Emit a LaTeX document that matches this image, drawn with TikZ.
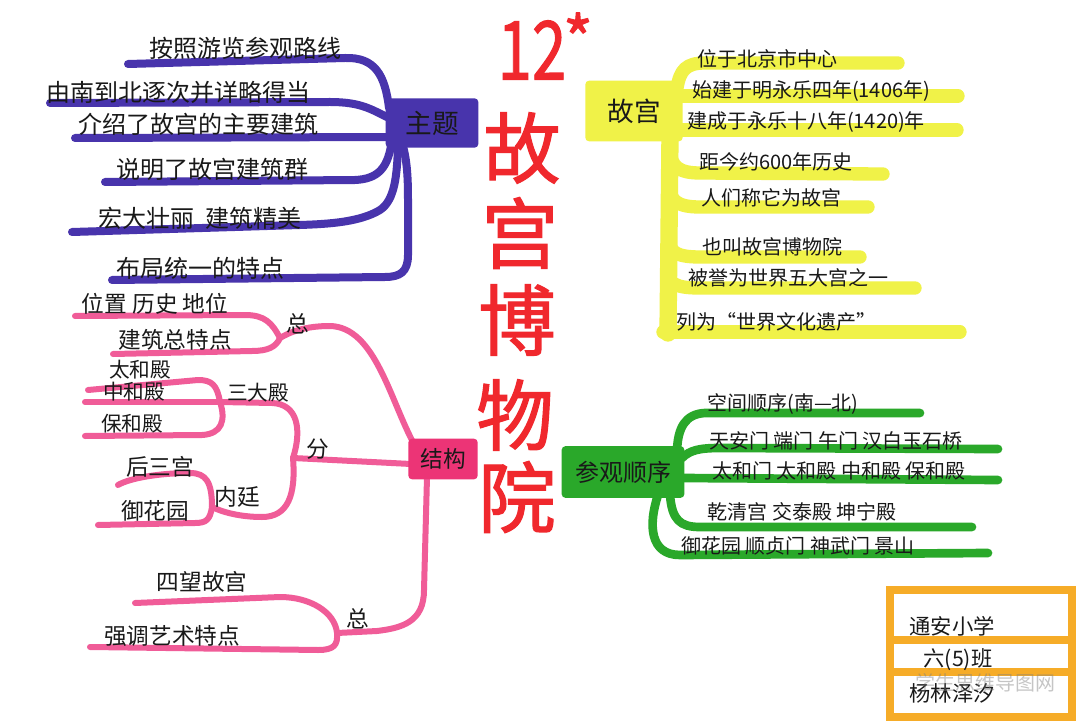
\documentclass[tikz,border=0pt]{standalone}
\usepackage{fontspec}
\setmainfont{Noto Sans CJK SC}
\newfontfamily\titlefont{Noto Sans CJK SC}[FakeBold=1.5]
\definecolor{cblue}{RGB}{72,52,172}
\definecolor{cpink}{RGB}{240,92,152}
\definecolor{cpinkbox}{RGB}{236,52,118}
\definecolor{cyel}{RGB}{240,242,72}
\definecolor{cgreen}{RGB}{42,168,42}
\definecolor{corange}{RGB}{246,172,40}
\definecolor{cred}{RGB}{240,40,45}
\definecolor{ink}{RGB}{25,25,25}
\pgfdeclarelayer{paper}
\pgfdeclarelayer{bg}
\pgfsetlayers{paper,bg,main}
\begin{document}
\begin{tikzpicture}[x=0.75pt,y=-0.75pt,
  bl/.style={draw=cblue,line width=6pt,line cap=round,line join=round},
  pk/.style={draw=cpink,line width=4.5pt,line cap=round,line join=round},
  yl/.style={draw=cyel,line width=10pt,line cap=round,line join=round},
  gr/.style={draw=cgreen,line width=6.5pt,line cap=round,line join=round},
  boxbase/.style={rectangle,rounded corners=2pt,inner sep=0pt,text=ink},
  blbox/.style={boxbase,fill=cblue,draw=cblue,line width=2pt,minimum width=67.5pt,minimum height=35pt,font=\fontsize{20}{22}\selectfont},
  pkbox/.style={boxbase,fill=cpinkbox,draw=cpinkbox,line width=2pt,minimum width=50pt,minimum height=28.5pt,font=\fontsize{17}{19}\selectfont},
  ylbox/.style={boxbase,fill=cyel,draw=cyel,line width=2pt,minimum width=71pt,minimum height=43.5pt,font=\fontsize{20}{22}\selectfont},
  grbox/.style={boxbase,fill=cgreen,draw=cgreen,line width=2pt,minimum width=90pt,minimum height=36.75pt,font=\fontsize{18}{20}\selectfont},
  tl/.style={inner sep=0pt,text=ink,font=\fontsize{18}{20}\selectfont},
  tp/.style={inner sep=0pt,text=ink,font=\fontsize{17}{19}\selectfont},
  tps/.style={inner sep=0pt,text=ink,font=\fontsize{15.5}{17}\selectfont},
  tr/.style={inner sep=0pt,text=ink,font=\fontsize{15}{17}\selectfont},
  to/.style={inner sep=0pt,text=ink,font=\fontsize{16}{18}\selectfont},
  cell/.style={rectangle,draw=corange,line width=6pt,minimum width=136.5pt,inner sep=0pt},
  ttl/.style={inner sep=0pt,text=cred,font=\titlefont\fontsize{58}{60}\selectfont},
  wm/.style={inner sep=0pt,text=gray,opacity=0.45,font=\fontsize{15}{17}\selectfont}]
\useasboundingbox (0,0) rectangle (1080,723);
\begin{pgfonlayer}{paper}
\fill[white] (0,0) rectangle (1080,723);
\end{pgfonlayer}

% ---------- title ----------
\node[ttl] (n12) at (532,50) {\scalebox{0.8}[1.05]{12}};
\node[inner sep=0pt,text=cred,font=\titlefont\fontsize{48}{50}\selectfont] (star) at (578,38) {*};
\node[ttl] (c1) at (522,148) {故};
\node[ttl] (c2) at (520,233) {宫};
\node[ttl] (c3) at (517,320) {博};
\node[ttl] (c4) at (515,415) {物};
\node[ttl] (c5) at (517,497) {院};

% ---------- boxes ----------
\node[blbox] (zt) at (432,123) {主题};
\node[pkbox] (jg) at (443,459) {结构};
\node[ylbox] (gg) at (634,111) {故宫};
\node[grbox] (cg) at (623,472) {参观顺序};

% ---------- blue texts ----------
\node[tl] (b1) at (245,48) {按照游览参观路线};
\node[tl] (b2) at (178,92) {由南到北逐次并详略得当};
\node[tl] (b3) at (198,124) {介绍了故宫的主要建筑};
\node[tl] (b4) at (212,169) {说明了故宫建筑群};
\node[tl] (b5) at (200,218) {宏大壮丽\ \ 建筑精美};
\node[tl] (b6) at (200,268) {布局统一的特点};

% ---------- pink texts ----------
\node[tp] (pz1) at (298,324) {总};
\node[tp] (pa) at (155,304) {位置\ 历史\ 地位};
\node[tp] (pb) at (175,340) {建筑总特点};
\node[tp] (pf) at (318,449) {分};
\node[tps] (psd) at (258,393) {三大殿};
\node[tps] (pth) at (140,370) {太和殿};
\node[tps] (pzh) at (134,392) {中和殿};
\node[tps] (pbh) at (132,424) {保和殿};
\node[tp] (pnt) at (237,497) {内廷};
\node[tp] (phs) at (160,467) {后三宫};
\node[tp] (pyh) at (155,511) {御花园};
\node[tp] (pz2) at (358,619) {总};
\node[tp] (psw) at (202,582) {四望故宫};
\node[tp] (pqd) at (172,636) {强调艺术特点};

% ---------- yellow texts ----------
\node[tr] (y1) at (767,59) {位于北京市中心};
\node[tr] (y2) at (811,91) {始建于明永乐四年(1406年)};
\node[tr] (y3) at (806,122) {建成于永乐十八年(1420)年};
\node[tr] (y4) at (776,162) {距今约600年历史};
\node[tr] (y5) at (771,198) {人们称它为故宫};
\node[tr] (y6) at (772,247) {也叫故宫博物院};
\node[tr] (y7) at (788,278) {被誉为世界五大宫之一};
\node[tr] (y8) at (776,322) {列为“世界文化遗产”};

% ---------- green texts ----------
\node[tr] (g1) at (783,404) {空间顺序(南—北)};
\node[tr] (g2) at (836,441) {天安门\ 端门\ 午门\ 汉白玉石桥};
\node[tr] (g3) at (839,471) {太和门\ 太和殿\ 中和殿\ 保和殿};
\node[tr] (g4) at (802,512) {乾清宫\ 交泰殿\ 坤宁殿};
\node[tr] (g5) at (798,546) {御花园\ 顺贞门\ 神武门\ 景山};

% ---------- orange card ----------
\node[cell,minimum height=37.5pt] (s1) at (981,615) {};
\node[cell,minimum height=24pt] (s2) at (981,656) {};
\node[cell,minimum height=33.75pt] (s3) at (981,694.5) {};
\node[to] (o1) at (952,626) {通安小学};
\node[to] (o2) at (958,660) {六(5)班};
\node[to] (o3) at (952,693) {杨林泽汐};
\node[wm] (wmk) at (985,683) {学生思维导图网};

% ---------- coordinates ----------
\coordinate (zA1) at (389,108); \coordinate (zL1) at (128,64);
\coordinate (zA2) at (389,118); \coordinate (zL2) at (50,103);
\coordinate (zA3) at (389,137); \coordinate (zL3) at (75,138);
\coordinate (zA4) at (391,146); \coordinate (zL4) at (105,182);
\coordinate (zA5) at (398,146); \coordinate (zL5) at (72,232);
\coordinate (zA6) at (403,146); \coordinate (zL6) at (112,280);

\coordinate (jA1) at (414,444); \coordinate (jA2) at (411,464); \coordinate (jA3) at (427,477);
\coordinate (hz1) at (280,338); \coordinate (hf) at (293,458); \coordinate (hs) at (220,402);
\coordinate (hn) at (212,507); \coordinate (hz2) at (337,633);
\coordinate (pL1) at (75,316); \coordinate (pL2) at (113,354); \coordinate (pL3) at (88,390);
\coordinate (pL4) at (85,402); \coordinate (pL5) at (85,436); \coordinate (pL6) at (118,485);
\coordinate (pL7) at (98,525); \coordinate (pL8) at (135,603); \coordinate (pL9) at (90,647);

\coordinate (yT0) at (670,135); \coordinate (yT1) at (668,333);
\coordinate (yA1) at (677,88);  \coordinate (yR1) at (898,63);
\coordinate (yA2) at (680,96);  \coordinate (yR2) at (958,96);
\coordinate (yA3) at (680,130); \coordinate (yR3) at (957,130);
\coordinate (yA4) at (670,150); \coordinate (yR4) at (883,174);
\coordinate (yA5) at (669,185); \coordinate (yR5) at (868,207);
\coordinate (yA6) at (669,240); \coordinate (yR6) at (860,257);
\coordinate (yA7) at (668,272); \coordinate (yR7) at (915,288);
\coordinate (yA8) at (663,332); \coordinate (yR8) at (960,332);

\coordinate (gA1) at (677,450); \coordinate (gR1) at (920,413);
\coordinate (gA2) at (682,458); \coordinate (gR2) at (998,449);
\coordinate (gA3) at (682,478); \coordinate (gR3) at (998,480);
\coordinate (gA4) at (670,495); \coordinate (gR4) at (972,527);
\coordinate (gA5) at (658,495); \coordinate (gR5) at (988,553);

\begin{pgfonlayer}{bg}
% blue
\draw[bl] (zA1) .. controls (385,75) and (375,57) .. (345,58) -- (zL1);
\draw[bl] (zA2) .. controls (372,110) and (362,102) .. (330,102) -- (zL2);
\draw[bl] (zA3) -- (zL3);
\draw[bl] (zA4) .. controls (387,168) and (378,179) .. (355,180) -- (zL4);
\draw[bl] (zA5) .. controls (397,175) and (395,200) .. (380,210) .. controls (360,222) and (330,224) .. (300,225) -- (zL5);
\draw[bl] (zA6) .. controls (408,165) and (408,185) .. (408,205) -- (408,255) .. controls (408,272) and (400,277) .. (385,277) -- (zL6);
% pink
\draw[pk] (jA1) .. controls (390,400) and (375,327) .. (330,326) .. controls (305,326) and (290,332) .. (hz1);
\draw[pk] (hz1) .. controls (272,323) and (265,315) .. (245,315) -- (pL1);
\draw[pk] (hz1) .. controls (276,347) and (268,351) .. (252,351) -- (pL2);
\draw[pk] (jA2) -- (hf);
\draw[pk] (hf) .. controls (302,430) and (298,404) .. (272,403) -- (hs);
\draw[pk] (hs) .. controls (217,385) and (212,380) .. (198,380) -- (pL3);
\draw[pk] (hs) -- (pL4);
\draw[pk] (hs) .. controls (226,420) and (222,434) .. (202,435) -- (pL5);
\draw[pk] (hf) .. controls (296,495) and (288,517) .. (262,517) .. controls (240,517) and (222,512) .. (hn);
\draw[pk] (hn) .. controls (212,482) and (206,473) .. (190,473) .. controls (160,473) and (130,478) .. (pL6);
\draw[pk] (hn) .. controls (210,520) and (206,523) .. (195,523) -- (pL7);
\draw[pk] (jA3) -- (424,590) .. controls (424,622) and (402,628) .. (377,631) -- (hz2);
\draw[pk] (hz2) .. controls (335,612) and (310,597) .. (280,597) -- (pL8);
\draw[pk] (hz2) .. controls (338,645) and (334,650) .. (318,650) -- (pL9);
% yellow
\draw[yl,line width=13pt] (yT0) -- (yT1);
\draw[yl] (yA1) .. controls (680,70) and (686,63) .. (705,63) -- (yR1);
\draw[yl] (yA2) -- (yR2);
\draw[yl] (yA3) -- (yR3);
\draw[yl] (yA4) .. controls (671,166) and (678,173) .. (700,173) -- (yR4);
\draw[yl] (yA5) .. controls (670,200) and (676,207) .. (700,207) -- (yR5);
\draw[yl] (yA6) .. controls (670,252) and (676,257) .. (700,257) -- (yR6);
\draw[yl] (yA7) .. controls (669,284) and (676,288) .. (700,288) -- (yR7);
\draw[yl] (yA8) -- (yR8);
% green
\draw[gr] (gA1) .. controls (678,428) and (685,414) .. (705,413) -- (gR1);
\draw[gr] (gA2) .. controls (690,450) and (700,448) .. (720,448) -- (gR2);
\draw[gr] (gA3) -- (gR3);
\draw[gr] (gA4) .. controls (672,520) and (680,527) .. (700,527) -- (gR4);
\draw[gr] (gA5) .. controls (648,525) and (650,555) .. (680,555) -- (gR5);
\end{pgfonlayer}
\end{tikzpicture}
\end{document}
